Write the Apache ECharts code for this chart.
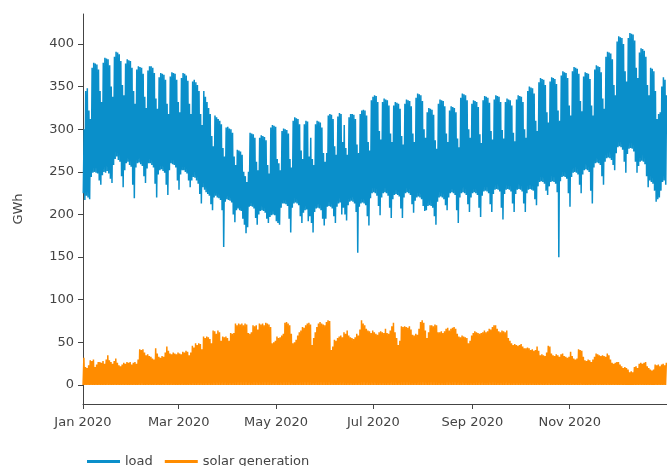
<!DOCTYPE html>
<html>
<head>
<meta charset="utf-8">
<script src="https://cdn.jsdelivr.net/npm/echarts@6/dist/echarts.min.js"></script>
<style>
html, body { margin: 0; padding: 0; background: #fff; }
#chart { width: 667px; height: 466px; }
</style>
</head>
<body>
<div id="chart"></div>
<script>
// Electricity load, 2020: highest and lowest hourly value of each day (GWh).
// One row per calendar week (Mon..Sun); the first row starts on Wed 1 Jan.
const loadDailyHigh = [
  300,345,348,322,312,
  372,378,377,376,370,345,332,
  378,384,383,382,375,350,338,
  385,391,390,388,380,352,340,
  377,382,381,380,372,345,330,
  370,374,373,372,365,338,325,
  369,374,374,372,366,336,324,
  361,366,365,364,358,330,318,
  362,367,366,365,358,332,320,
  360,366,365,363,357,330,318,
  356,358,355,352,345,318,305,
  345,338,332,325,318,292,280,
  316,314,312,310,306,278,268,
  302,303,301,300,296,268,258,
  276,275,274,270,250,245,238,
  250,296,295,294,290,262,252,
  290,293,292,291,287,258,248,
  302,305,304,303,265,260,252,
  298,301,300,299,295,265,255,
  310,314,313,312,306,275,265,
  306,310,309,268,290,265,258,
  306,310,309,308,302,272,262,
  272,316,318,317,312,280,270,
  315,319,318,285,305,278,270,
  314,318,318,317,312,282,272,
  318,322,323,322,316,285,275,
  334,338,340,339,332,298,288,
  332,336,335,334,328,295,285,
  328,332,331,330,324,292,282,
  330,335,334,333,327,295,285,
  337,342,341,340,333,300,290,
  320,325,324,323,317,287,277,
  330,335,334,333,327,295,285,
  322,327,326,325,320,289,279,
  337,342,341,340,334,300,290,
  330,334,333,332,326,294,284,
  334,339,338,337,331,298,288,
  335,340,339,338,332,299,289,
  332,336,335,334,328,296,286,
  335,340,339,338,332,300,290,
  345,350,349,348,342,310,298,
  355,360,359,358,352,320,308,
  356,361,360,359,353,322,310,
  363,368,367,366,360,328,316,
  368,373,372,371,365,333,321,
  362,367,366,365,359,328,316,
  370,375,374,373,367,336,324,
  385,391,390,389,382,352,340,
  403,409,408,407,400,368,356,
  407,413,412,411,404,372,360,
  390,395,394,392,385,352,340,
  372,371,368,345,312,318,320,
  350,361,358,340
];

const loadDailyLow = [
  225,217,222,220,218,
  244,249,250,249,248,240,235,
  246,250,249,251,248,242,237,
  258,265,268,264,262,245,232,
  252,260,262,258,256,235,219,
  255,260,261,259,257,245,237,
  254,260,260,258,255,236,220,
  247,252,253,251,249,235,223,
  252,260,259,258,255,240,229,
  247,252,252,250,248,240,232,
  240,244,243,240,236,224,213,
  232,229,226,224,222,212,205,
  220,222,220,219,217,205,162,
  215,218,217,216,214,200,191,
  205,207,205,204,195,188,178,
  185,209,210,209,207,196,188,
  200,204,205,204,202,195,190,
  197,199,200,199,192,190,188,
  208,213,213,212,210,195,179,
  208,213,214,213,211,198,190,
  202,205,206,192,198,190,179,
  203,207,208,207,205,195,187,
  195,209,210,209,207,198,190,
  209,213,214,200,208,200,193,
  211,215,216,215,213,203,155,
  209,213,214,213,211,198,187,
  219,225,226,225,222,210,199,
  220,225,226,225,222,208,196,
  218,223,224,223,221,207,196,
  220,225,226,225,223,212,202,
  216,220,221,220,218,210,204,
  205,210,211,210,208,198,188,
  215,220,221,220,218,211,205,
  220,225,226,225,223,205,190,
  220,225,226,225,223,212,203,
  220,225,226,225,223,208,197,
  222,227,228,227,225,212,203,
  224,229,230,229,227,208,194,
  224,229,230,229,227,213,203,
  224,229,230,229,227,213,203,
  225,229,230,229,228,218,211,
  233,238,239,238,236,228,223,
  233,238,239,238,236,226,150,
  239,244,245,244,242,225,209,
  244,249,250,249,247,235,225,
  247,252,253,252,250,228,213,
  255,260,261,260,258,245,235,
  262,266,267,266,264,258,252,
  272,279,280,279,276,262,249,
  271,277,278,277,274,262,249,
  257,262,263,262,259,245,232,
  240,238,236,228,215,218,220,
  228,238,240,235
];

// Solar generation, 2020: midday peak of each day (GWh), ten days per row.
const solarDailyPeak = [
  32,21,20,23,29,28,30,21,24,27,
  27,26,28,25,30,35,29,27,25,28,
  31,26,23,22,24,26,25,27,26,27,
  24,26,27,25,30,42,41,42,38,35,
  36,34,33,31,30,43,37,33,32,34,
  33,38,45,40,37,36,38,37,36,38,
  37,36,39,38,40,39,35,38,46,44,
  49,47,49,48,42,57,55,57,56,54,
  49,64,63,60,64,62,52,57,56,57,
  55,52,61,60,61,72,70,72,71,72,
  70,72,71,61,60,62,70,69,70,65,
  72,71,72,70,73,72,71,68,49,50,
  52,57,55,56,58,60,73,74,72,70,
  60,49,50,53,58,62,64,68,67,70,
  72,73,71,47,55,62,68,72,74,72,
  71,70,74,76,75,41,45,53,52,55,
  57,58,56,62,60,64,58,56,55,54,
  56,60,58,65,76,72,70,66,64,63,
  61,64,62,60,59,62,63,62,61,66,
  61,60,64,69,73,62,55,47,52,69,
  68,69,68,67,69,65,59,58,60,59,
  66,74,76,73,64,55,62,70,70,69,
  71,70,62,62,63,61,63,66,67,64,
  66,67,68,66,60,57,56,58,57,56,
  55,49,52,58,61,63,62,61,60,61,
  62,64,62,63,66,65,68,70,70,66,
  63,62,64,63,62,64,55,52,49,47,
  48,47,46,47,48,45,43,43,44,43,
  41,42,40,41,45,40,35,36,35,34,
  38,46,45,37,35,34,36,35,33,36,
  37,34,33,32,33,39,34,31,30,31,
  42,41,40,33,29,28,30,29,27,30,
  33,37,36,35,34,35,34,33,37,35,
  30,26,25,26,27,27,24,22,20,21,
  20,18,15,16,15,21,22,20,25,26,
  25,26,27,22,20,18,17,18,24,23,
  24,22,24,25,23,26
];
const solarNight = 0;

const seriesNames = ['load', 'solar generation'];
const tickMonths = [0, 2, 4, 6, 8, 10];
const tickLabels = ['Jan 2020', 'Mar 2020', 'May 2020', 'Jul 2020', 'Sep 2020', 'Nov 2020'];
const yTicks = [0, 50, 100, 150, 200, 250, 300, 350, 400];

// timestamp of a given hour on day index d of 2020
function at(d, h) { return new Date(2020, 0, 1 + d, h).getTime(); }

// each day: night trough at 04:00, evening peak at 17:00
const loadData = [];
loadDailyLow.forEach(function (lo, d) {
  loadData.push([at(d, 4), lo]);
  loadData.push([at(d, 17), loadDailyHigh[d]]);
});
// each day: nothing at night, peak around 13:00
const solarData = [];
solarDailyPeak.forEach(function (pk, d) {
  solarData.push([at(d, 1), solarNight]);
  solarData.push([at(d, 13), pk]);
});

const monthStarts = tickMonths.map(function (m) { return new Date(2020, m, 1).getTime(); });
const font = 'DejaVu Sans';
const ink = '#444';

const chart = echarts.init(document.getElementById('chart'), null, { renderer: 'canvas' });
chart.setOption({
  animation: false,
  color: ['#0a8fca', '#ff8c00'],
  textStyle: { fontFamily: font },
  grid: { left: 83, right: -3, top: 14, bottom: 62 },
  legend: {
    left: 82,
    top: 450,
    icon: 'rect',
    itemWidth: 33,
    itemHeight: 3,
    itemGap: 12,
    textStyle: { color: ink, fontFamily: font, fontSize: 13 },
    data: seriesNames
  },
  xAxis: {
    // timestamps on a plain value scale, ticks at the first day of every other month
    type: 'value',
    min: at(0, 0),
    max: at(365, 23),
    axisLine: { show: true, onZero: false, lineStyle: { color: ink, width: 1 } },
    axisTick: { show: true, customValues: monthStarts, length: 5, lineStyle: { color: ink } },
    axisLabel: {
      customValues: monthStarts,
      color: ink,
      fontFamily: font,
      fontSize: 13,
      margin: 12,
      formatter: function (v) {
        const i = monthStarts.indexOf(v);
        return i >= 0 ? tickLabels[i] : '';
      }
    },
    splitLine: { show: false }
  },
  yAxis: {
    type: 'value',
    min: -22.3,
    max: 435.2,
    name: 'GWh',
    nameLocation: 'middle',
    nameGap: 58,
    nameTextStyle: { color: ink, fontFamily: font, fontSize: 13 },
    axisLine: { show: true, lineStyle: { color: ink, width: 1 } },
    axisTick: { show: true, customValues: yTicks, length: 5, lineStyle: { color: ink } },
    axisLabel: { customValues: yTicks, color: ink, fontFamily: font, fontSize: 13, margin: 9 },
    splitLine: { show: false }
  },
  series: [
    {
      name: seriesNames[0],
      type: 'line',
      data: loadData,
      symbol: 'none',
      showSymbol: false,
      lineStyle: { width: 1.5 },
      emphasis: { disabled: true }
    },
    {
      name: seriesNames[1],
      type: 'line',
      data: solarData,
      symbol: 'none',
      showSymbol: false,
      lineStyle: { width: 1.5 },
      emphasis: { disabled: true }
    }
  ]
});
</script>
</body>
</html>
